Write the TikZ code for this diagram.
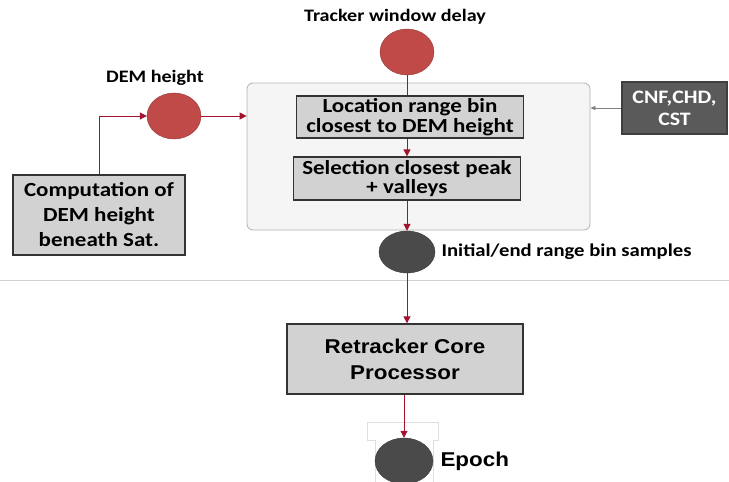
\documentclass[tikz,border=0pt]{standalone}
\usepackage{fontspec}
\setmainfont{Carlito}
\newfontfamily\widefont[FakeStretch=1.15]{Carlito}
\newfontfamily\arialfont[FakeStretch=1.12]{Liberation Sans}
\usepackage{tikz}
\usetikzlibrary{positioning,arrows.meta,shapes.geometric}
\definecolor{flowred}{HTML}{A3122E}
\definecolor{dotred}{HTML}{BF4A48}
\definecolor{dotdark}{HTML}{4A4A4A}
\definecolor{boxgray}{HTML}{D2D2D2}
\definecolor{panelgray}{HTML}{F5F5F5}
\definecolor{darkbox}{HTML}{5A5A5A}

\begin{document}
\begin{tikzpicture}[x=1pt,y=-1pt,
  procbox/.style={draw=black!80, fill=boxgray, line width=1.3pt, align=center,
    inner sep=0pt, font=\widefont\bfseries\fontsize{20}{19.5}\selectfont},
  reddot/.style={ellipse, draw=dotred!75!black, fill=dotred, inner sep=0pt,
    minimum width=54pt, minimum height=46pt},
  darkdot/.style={ellipse, draw=dotdark!80!black, fill=dotdark, inner sep=0pt,
    minimum width=56pt, minimum height=42pt},
  lbl/.style={font=\widefont\bfseries\fontsize{17.5}{19}\selectfont},
  flow/.style={draw=flowred, line width=1pt, -{Triangle[length=7pt,width=7pt]}},
  flowline/.style={draw=flowred, line width=1pt}]
  \useasboundingbox (0,0) rectangle (729,482);
  % container of the peak search
  \node[draw=gray!60, fill=panelgray, rounded corners=6pt, line width=0.8pt,
        minimum width=343pt, minimum height=147pt] (panel) at (418.5,156.5) {};
  \node[reddot] (trackdot) at (407,52) {};
  \node[lbl] (tracklbl) at (395,17) {Tracker window delay};
  \node[procbox, minimum width=227pt, minimum height=42pt] (loc) at (410,117)
       {Location range bin\\closest to DEM height};
  \node[procbox, minimum width=227pt, minimum height=43pt] (sel) at (407,178.5)
       {Selection closest peak\\+ valleys};
  \node[darkdot] (initdot) at (407,252) {};
  \node[lbl, anchor=west, font=\widefont\bfseries\fontsize{18}{19}\selectfont]
       (initlbl) at (438,252) {Initial/end range bin samples};
  % DEM input
  \node[reddot] (demdot) at (174,116) {};
  \node[lbl] (demlbl) at (155,78) {DEM height};
  \node[procbox, font=\widefont\bfseries\fontsize{20}{25}\selectfont,
        minimum width=172pt, minimum height=80pt] (comp) at (99,215)
       {Computation of\\DEM height\\beneath Sat.};
  \node[procbox, draw=darkbox!70!black, fill=darkbox, text=white,
        font=\widefont\bfseries\fontsize{19}{22}\selectfont,
        minimum width=105pt, minimum height=52pt] (cnf) at (674.5,108)
       {CNF,CHD,\\CST};
  % lower part
  \draw[gray!35, line width=0.6pt] (0,280) -- (729,280);
  \node[procbox, font=\arialfont\bfseries\fontsize{20}{26}\selectfont,
        minimum width=236pt, minimum height=70pt] (retr) at (405,359)
       {Retracker Core\\Processor};
  \draw[gray!25, line width=0.6pt] (375,482) -- (375,440) -- (367,440) -- (367,422)
       -- (438,422) -- (438,440) -- (433,440) -- (433,482);
  \node[darkdot, minimum width=58pt, minimum height=46pt] (epochdot) at (404,461) {};
  \node[anchor=west, font=\arialfont\bfseries\fontsize{20}{22}\selectfont] (epochlbl)
       at (437,461) {Epoch};
  % connectors
  \draw[flow] (comp.north) |- (demdot.west);
  \draw[flow] (demdot.east) -- (demdot.east -| panel.west);
  \draw[gray, line width=0.8pt, -{Triangle[length=5pt,width=4pt]}]
       (cnf.west) -- (cnf.west -| panel.east);
  \draw[flowline] (trackdot.south) -- (trackdot.south |- loc.north);
  \draw[flow] (sel.north |- loc.south) -- (sel.north);
  \draw[flow] (sel.south) -- (initdot.north);
  \draw[flow] (initdot.south) -- (initdot.south |- retr.north);
  \draw[flow] (epochdot.north |- retr.south) -- (epochdot.north);
\end{tikzpicture}
\end{document}
